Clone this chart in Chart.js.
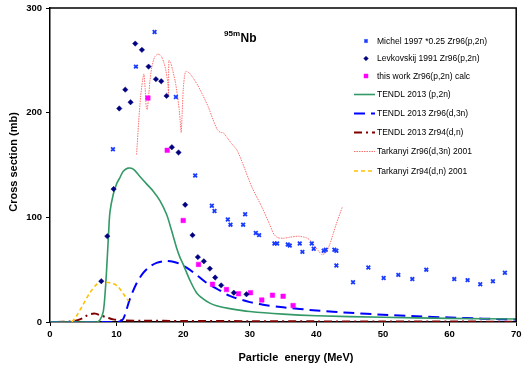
<!DOCTYPE html>
<html>
<head>
<meta charset="utf-8">
<script src="https://cdn.jsdelivr.net/npm/chart.js@4/dist/chart.umd.min.js"></script>
<style>
html,body{margin:0;padding:0;background:#fff;}
#wrap{position:relative;width:522px;height:368px;}
</style>
</head>
<body>
<div id="wrap"><canvas id="c" width="522" height="368"></canvas></div>
<script>
// ---------------- DATA ----------------
const michelE  = [9.45,12.9,15.7,18.9,21.8,24.3,24.7,26.7,27.1,29.0,29.3,30.9,31.4,33.7,34.1,35.7,36.0,37.5,37.9,39.3,39.6,41.1,41.4,42.7,43.0,43.0,45.5,47.8,50.1,52.3,54.4,56.5,60.7,62.7,64.6,66.5,68.3];
const michelXS = [165,244,277,215,140,111,106,98,93,93,103,85,83,75,75,74,73,75,67,75,70,68,69,69,68,54,38,52,42,45,41,50,41,40,36,39,47];

const levE  = [7.7,8.6,9.55,10.4,11.3,12.1,12.8,13.8,14.8,15.9,16.7,17.5,18.3,19.3,20.3,21.4,22.2,23.1,24.0,24.8,25.7,27.6,29.5];
const levXS = [39,82,127,204,222,210,266,260,244,232,230,216,167,162,112,83,62,58,51,42.5,35,28,26.5];

const calcE  = [14.7,17.6,20.0,22.3,24.4,26.5,28.3,30.1,31.8,33.4,35.0,36.5];
const calcXS = [214,164,97,55,36,31,27,28,21,25.6,24.6,15.7];

const tendlP2nE  = [0,7,7.5,8,8.3,8.5,8.8,9,9.5,10,10.5,11,11.7,12.5,13.5,14.5,15.5,16.5,17.5,18,18.5,19,19.5,20,21,22,23,24,25,27,30,35,40,50,60,70];
const tendlP2nXS = [0,0,2,10,30,50,85,105,122,132,138,144,147,146,139,132,125,116,103,93,82,71,62,55,40,28,22,18,15.5,12.8,10,7.5,6,4.5,3.5,2.8];

const tendlD3nE  = [0,10,10.5,11,11.5,12,13,14,15,16,17,17.5,18.5,19.5,20.5,21.5,22.5,23.5,25,27,30,32,35,40,45,50,55,60,65,70];
const tendlD3nXS = [0,0,0.5,3,12,22,37,47,53,56.5,58,58.4,57.5,55.5,52,47.5,42.5,37.5,32,25,19,16.5,14,11,8.8,7,5.5,4.3,3.2,2.3];

const tendlDnE  = [1,3,4,5,5.5,6,6.8,7.5,8.5,9.5,11,14,20,30,40,50,60,70];
const tendlDnXS = [0,0.5,1.5,4,6,7.5,8,6.5,4.5,2.5,1.5,1.2,1,0.8,0.6,0.5,0.4,0.3];

const tarkD3nE  = [13.0,13.3,13.6,13.9,14.1,14.3,14.45,14.6,14.8,15.0,15.3,15.7,16.2,16.7,17.1,17.4,17.7,17.8,17.85,18.1,18.4,18.8,19.1,19.4,19.6,19.7,19.85,20.0,20.2,20.4,20.9,21.5,22.2,23.0,23.8,24.5,25.1,25.6,26.0,26.5,27.2,28.1,28.9,30.3,31.8,33.0,33.6,34.2,35.0,36.0,37.3,38.5,39.1,39.8,40.3,40.8,41.4,42.0,42.5,43.0,43.9];
const tarkD3nXS = [160,190,215,231,237,222,205,203,215,230,244,253,256,254,248,240,228,217,250,248,241,230,218,203,188,181,200,222,235,239.5,238,233,226,216,205,193,184,181,181,177,171,164,152,129,110,93,84,80.5,80,81,82,80.5,78,72,68,64.5,66,74,84,94,110];

const tarkDnE  = [3.3,4,5,6,7,7.7,8.5,9.5,10.2,11,11.8];
const tarkDnXS = [0,6,17,28,36,39,38,36.5,34,27,20];

const xTicks = [0,10,20,30,40,50,60,70];
const yTicks = [0,100,200,300];

const legendLabels = [
  "Michel 1997 *0.25 Zr96(p,2n)",
  "Levkovskij 1991 Zr96(p,2n)",
  "this work Zr96(p,2n) calc",
  "TENDL 2013 (p,2n)",
  "TENDL 2013 Zr96(d,3n)",
  "TENDL 2013 Zr94(d,n)",
  "Tarkanyi Zr96(d,3n) 2001",
  "Tarkanyi Zr94(d,n) 2001"
];

// ---------------- BUILD ----------------
const pts = (xs, ys) => xs.map((x, i) => ({x: x, y: ys[i]}));
const FONT = "Arial, 'Liberation Sans', sans-serif";

const datasets = [
  {label: legendLabels[0], data: pts(michelE, michelXS), pointStyle: 'crossRot', pointRadius: 2.6,
   borderColor: '#1a3cff', backgroundColor: '#1a3cff', pointBorderWidth: 1.8, showLine: false, order: 1, legendR: 2.2},
  {label: legendLabels[1], data: pts(levE, levXS), pointStyle: 'rectRot', pointRadius: 2.7,
   borderColor: '#000080', backgroundColor: '#000080', pointBorderWidth: 0.5, showLine: false, order: 1, legendR: 2.3},
  {label: legendLabels[2], data: pts(calcE, calcXS), pointStyle: 'rect', pointRadius: 3.2,
   borderColor: '#ff00ff', backgroundColor: '#ff00ff', pointBorderWidth: 0.5, showLine: false, order: 1, legendR: 2.8},
  {label: legendLabels[3], data: pts(tendlP2nE, tendlP2nXS), showLine: true, pointRadius: 0,
   borderColor: '#339966', borderWidth: 1.6, tension: 0.3, order: 3},
  {label: legendLabels[4], data: pts(tendlD3nE, tendlD3nXS), showLine: true, pointRadius: 0,
   borderColor: '#0000ff', borderWidth: 2, borderDash: [11, 6], tension: 0.3, order: 3},
  {label: legendLabels[5], data: pts(tendlDnE, tendlDnXS), showLine: true, pointRadius: 0,
   borderColor: '#800000', borderWidth: 2, borderDash: [8, 4, 2, 4], tension: 0.3, order: 3},
  {label: legendLabels[6], data: pts(tarkD3nE, tarkD3nXS), showLine: true, pointRadius: 0,
   borderColor: '#ff7070', borderWidth: 1, borderDash: [1.5, 1], tension: 0.2, order: 2},
  {label: legendLabels[7], data: pts(tarkDnE, tarkDnXS), showLine: true, pointRadius: 0,
   borderColor: '#ffc000', borderWidth: 1.6, borderDash: [4, 3], tension: 0.3, order: 2}
];

const legendY = [41, 58.5, 76, 94.5, 113.5, 132.5, 151.5, 171];

const decor = {
  id: 'decor',
  afterDraw(chart) {
    const ctx = chart.ctx;
    const a = chart.chartArea;
    ctx.save();
    // frame (top/right)
    ctx.strokeStyle = '#000';
    ctx.lineWidth = 1.5;
    ctx.beginPath();
    ctx.moveTo(a.left, a.top);
    ctx.lineTo(a.right, a.top);
    ctx.lineTo(a.right, a.bottom);
    ctx.stroke();

    // title 95mNb
    ctx.fillStyle = '#000';
    ctx.textBaseline = 'alphabetic';
    ctx.textAlign = 'left';
    ctx.font = 'bold 8px ' + FONT;
    ctx.fillText('95m', 224, 36);
    ctx.font = 'bold 12px ' + FONT;
    ctx.fillText('Nb', 240.5, 41.5);

    // axis titles
    ctx.font = 'bold 11px ' + FONT;
    ctx.textAlign = 'center';
    ctx.textBaseline = 'middle';
    ctx.fillText('Particle  energy (MeV)', 296, 358);
    ctx.save();
    ctx.translate(14, 162);
    ctx.rotate(-Math.PI / 2);
    ctx.fillText('Cross section (mb)', 0, 0);
    ctx.restore();

    // legend
    ctx.font = '8.5px ' + FONT;
    ctx.textAlign = 'left';
    ctx.textBaseline = 'middle';
    chart.data.datasets.forEach((ds, i) => {
      const y = legendY[i];
      if (ds.showLine) {
        ctx.save();
        ctx.strokeStyle = ds.borderColor;
        ctx.lineWidth = ds.borderWidth;
        ctx.setLineDash(ds.borderDash || []);
        ctx.beginPath();
        ctx.moveTo(354, y);
        ctx.lineTo(375, y);
        ctx.stroke();
        ctx.restore();
      } else {
        ctx.save();
        ctx.fillStyle = ds.backgroundColor;
        ctx.strokeStyle = ds.borderColor;
        ctx.lineWidth = ds.pointBorderWidth;
        Chart.helpers.drawPoint(ctx, {
          pointStyle: ds.pointStyle, radius: ds.legendR, rotation: 0,
          borderWidth: ds.pointBorderWidth
        }, 366, y);
        ctx.restore();
      }
      ctx.fillStyle = '#000';
      ctx.fillText(ds.label, 377, y + 0.5);
    });
    ctx.restore();
  }
};

new Chart(document.getElementById('c'), {
  type: 'scatter',
  data: {datasets: datasets},
  plugins: [decor],
  options: {
    responsive: false,
    animation: false,
    devicePixelRatio: 1,
    layout: {padding: {top: 8, right: 4, left: 0, bottom: 0}},
    plugins: {legend: {display: false}, tooltip: {enabled: false}},
    scales: {
      x: {
        type: 'linear', min: 0, max: 70,
        afterBuildTicks(s) { s.ticks = xTicks.map(v => ({value: v})); },
        afterFit(s) { s.height = 46; s.paddingLeft = 0; s.paddingRight = 0; },
        grid: {display: true, drawOnChartArea: false, drawTicks: true, tickLength: 4, color: '#000', lineWidth: 1},
        border: {display: true, color: '#000', width: 1.5},
        ticks: {color: '#000', font: {family: FONT, size: 9.5, weight: 'bold'}, padding: 3, maxRotation: 0}
      },
      y: {
        type: 'linear', min: 0, max: 300,
        afterBuildTicks(s) { s.ticks = yTicks.map(v => ({value: v})); },
        afterFit(s) { s.width = 50; s.paddingTop = 0; s.paddingBottom = 0; },
        grid: {display: true, drawOnChartArea: false, drawTicks: true, tickLength: 4, color: '#000', lineWidth: 1},
        border: {display: true, color: '#000', width: 1.5},
        ticks: {color: '#000', font: {family: FONT, size: 9.5, weight: 'bold'}, padding: 4}
      }
    }
  }
});
</script>
</body>
</html>
